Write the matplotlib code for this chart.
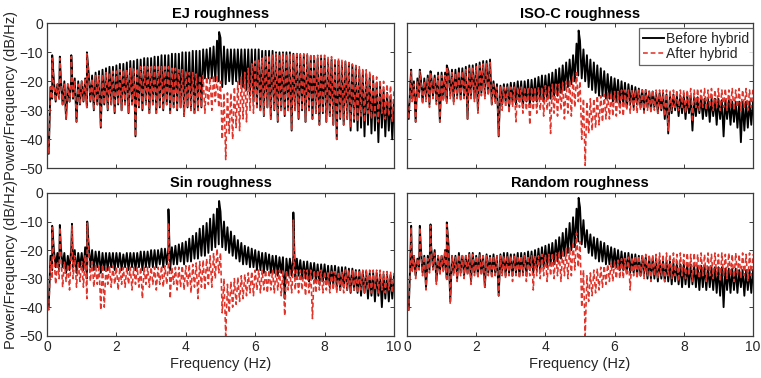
import numpy as np
import matplotlib
matplotlib.use("Agg")
import matplotlib.pyplot as plt

# ---------------- data ----------------
# upper values of each trace at 0.0, 0.1, ..., 10.0 Hz and lower values at 0.05, 0.15, ..., 9.95 Hz
freq_hi = np.round(np.linspace(0.0, 10.0, 101), 3)
freq_lo = np.round(np.linspace(0.05, 9.95, 100), 3)

titles = ["EJ roughness", "ISO-C roughness", "Sin roughness", "Random roughness"]
series_labels = ["Before hybrid", "After hybrid"]

# ---- EJ ----
ej_before_hi = [
    -38, -22, -20, -21, -19, -20, -21, -19, -19, -20,
    -20, -19, -17, -18, -17, -16.5, -16, -15.5, -15, -15,
    -14.5, -14, -14, -13.5, -13, -13, -12.5, -12.5, -12, -12,
    -12, -11.5, -11.5, -11, -11, -11, -10.5, -10.5, -10.5, -10,
    -10, -10, -9.5, -9.5, -9.5, -9, -9, -8.5, -8, -6,
    -5, -8, -9, -9, -9, -9, -9, -9, -9, -9,
    -9, -9, -9.5, -9.5, -9.5, -9.5, -10, -10, -10, -10,
    -10, -10.5, -10.5, -11, -11, -11, -11.5, -11.5, -12, -12,
    -12, -12.5, -12.5, -13, -13, -13.5, -13.5, -14, -14.5, -15,
    -16, -17, -17.5, -18.5, -19.5, -20.5, -21.5, -23, -24, -25.5,
    -27]
ej_before_lo = [
    -45, -26, -27, -26, -28, -33, -27, -26, -34, -28,
    -27, -29, -27, -30, -28, -36, -28, -30, -28, -31,
    -28, -30, -28, -31, -28, -39, -29, -30, -28, -31,
    -28, -31, -29, -30, -28, -31, -29, -30, -29, -32,
    -29, -30, -31, -30, -29, -19, -19, -19, -20, -20,
    -22, -21, -20, -21, -20, -21, -22, -23, -25, -27,
    -29, -30, -32, -29, -33, -30, -34, -30, -32, -30,
    -37, -30, -33, -30, -34, -30, -33, -31, -35, -31,
    -34, -32, -35, -40, -33, -35, -33, -37, -34, -37,
    -36, -39, -35, -38, -37, -41, -36, -39, -37, -40]
ej_after_hi = [
    -38, -22, -21, -21, -20, -21, -21, -20, -20, -21,
    -20, -19, -18, -19, -18, -18, -17.5, -17, -17, -16.5,
    -16.5, -16, -16, -16, -15.5, -15.5, -15.5, -15, -15, -15,
    -15, -15, -15, -15, -15, -15, -15.5, -15.5, -16, -16,
    -16.5, -17, -17, -17.5, -18, -18, -18.5, -18.5, -18, -18,
    -20, -24, -24, -24, -22, -20, -18.5, -17, -15.5, -14,
    -13, -12.5, -12, -11.5, -11, -11, -10.5, -10.5, -10.5, -10.5,
    -10.5, -10.5, -10.5, -10.5, -10.5, -10.5, -10.5, -10.5, -11, -11,
    -11, -11.5, -11.5, -12, -12, -12.5, -13, -13.5, -14, -14.5,
    -15, -15.5, -16, -16.5, -17.5, -18.5, -19.5, -20, -21, -21.5,
    -23]
ej_after_lo = [
    -45, -26, -27, -26, -28, -33, -27, -26, -34, -28,
    -27, -29, -27, -30, -28, -36, -28, -30, -28, -31,
    -28, -30, -28, -31, -28, -39, -29, -30, -28, -31,
    -28, -31, -29, -30, -28, -31, -29, -30, -29, -32,
    -29, -30, -31, -30, -29, -31, -28, -30, -27, -29,
    -40, -47, -38, -40, -36, -37, -33, -34, -30, -31,
    -29, -30, -32, -29, -33, -30, -34, -30, -32, -30,
    -37, -30, -33, -30, -34, -30, -33, -31, -35, -31,
    -34, -32, -35, -40, -33, -35, -33, -36, -33, -34,
    -32, -34, -31, -33, -32, -34, -31, -33, -32, -34]
ej_before_peak_f = [0.15, 0.37, 0.70, 1.15, 4.96]
ej_before_peak_v = [-11, -11.5, -11, -10, -3]
ej_after_peak_f = [0.15, 0.37, 0.70, 1.15]
ej_after_peak_v = [-12, -12, -11.5, -10.5]

# ---- ISO-C ----
iso_before_hi = [
    -27, -20, -20, -19, -19, -19, -18, -18, -18, -17,
    -17, -17, -16.5, -16, -16, -15.5, -15.5, -15, -14.5, -14.5,
    -14, -13.5, -13, -13, -12.5, -20, -21, -21.5, -21, -21,
    -20.5, -20.5, -20, -20, -20, -19.5, -19.5, -19, -18.5, -18,
    -18, -17.5, -17, -16, -15.5, -14.5, -13.5, -12.5, -11, -7,
    -6, -9, -11, -12.5, -13.5, -14.5, -15.5, -16.5, -17.5, -18.5,
    -19, -19.5, -20, -20.5, -21, -21.5, -22, -22.5, -23, -23,
    -23.5, -23.5, -24, -24, -24, -24.5, -24.5, -24.5, -25, -25,
    -25, -25, -25.5, -25.5, -25.5, -25.5, -26, -26, -26, -26,
    -26, -26.5, -26.5, -26.5, -27, -27, -27, -27, -27, -27,
    -27]
iso_before_lo = [
    -33, -26, -34, -25, -27, -26, -28, -25, -27, -34,
    -26, -27, -25, -27, -25, -26, -25, -33, -25, -26,
    -30, -24, -25, -24, -28, -26, -39, -28, -27, -29,
    -27, -28, -27, -29, -27, -28, -27, -27, -26, -27,
    -26, -26, -25, -25, -24, -23, -22, -21, -20, -18,
    -19, -20, -22, -23, -24, -25, -25, -26, -26, -27,
    -27, -28, -28, -29, -28, -29, -28, -29, -30, -29,
    -30, -29, -31, -30, -33, -38, -31, -30, -32, -31,
    -33, -31, -37, -32, -31, -33, -32, -34, -32, -35,
    -33, -39, -33, -35, -34, -36, -41, -37, -36, -35]
iso_after_hi = [
    -28, -21, -21, -20, -20, -20, -19, -19, -19, -18,
    -18, -18, -17.5, -17, -17, -16.5, -16.5, -16, -15.5, -15.5,
    -15, -14.5, -14, -14, -13.5, -21, -22, -22, -22, -22,
    -22, -22, -22, -22, -22, -22, -22, -22, -22, -22,
    -21.5, -21.5, -21, -21, -21, -20.5, -20, -19.5, -18, -17,
    -20, -26, -27, -26, -26, -25, -25, -24.5, -24, -24,
    -23.5, -23.5, -23, -23, -23, -23, -23, -23, -23, -23,
    -23, -23, -23, -23, -23, -23, -23, -23, -23, -23,
    -23, -23, -22.5, -23, -22.5, -23, -22.5, -23, -22.5, -23,
    -22.5, -23, -22.5, -23, -22.5, -23, -22.5, -23, -22.5, -23,
    -22.5]
iso_after_lo = [
    -33, -27, -34, -26, -28, -27, -29, -26, -28, -34,
    -27, -28, -26, -28, -26, -27, -26, -33, -26, -27,
    -31, -25, -26, -25, -28, -28, -39, -30, -29, -31,
    -29, -34, -29, -31, -30, -35, -30, -31, -30, -32,
    -30, -38, -31, -32, -30, -33, -31, -32, -29, -27,
    -40, -49, -38, -37, -36, -35, -34, -33, -33, -32,
    -32, -31, -32, -30, -31, -30, -31, -30, -31, -30,
    -31, -30, -31, -30, -32, -37, -30, -29, -30, -29,
    -31, -29, -34, -29, -30, -29, -30, -29, -30, -29,
    -30, -29, -30, -29, -30, -29, -30, -29, -30, -29]
iso_before_peak_f = [0.12, 0.37, 0.68, 1.15, 4.96]
iso_before_peak_v = [-16, -16, -16.5, -14.5, -2.5]
iso_after_peak_f = [0.12, 0.37, 0.68, 1.15]
iso_after_peak_v = [-16.5, -16.5, -17, -15]

# ---- Sin ----
sin_before_hi = [
    -38, -22, -20, -21, -19, -21, -22, -19, -20, -21,
    -21, -19, -18, -20, -20.5, -20.5, -21, -21, -21, -21,
    -21, -21, -21.5, -21, -21, -21, -21, -20.5, -20.5, -20.5,
    -20, -20, -20, -19.5, -19.5, -19, -19, -18.5, -18, -17.5,
    -17, -16, -15, -14, -12.5, -11.5, -10.5, -9, -7.5, -5.5,
    -6.5, -10, -12, -13.5, -15, -16.5, -17.5, -18.5, -19, -19.5,
    -20, -20.5, -21, -21, -21.5, -22, -22, -22.5, -22.5, -23,
    -23, -22, -23, -23.5, -24, -24, -24.5, -24.5, -25, -25,
    -25, -25.5, -25.5, -25.5, -26, -26, -26, -26.5, -26.5, -27,
    -27, -27.5, -27.5, -28, -28, -28, -28.5, -28.5, -28.5, -29,
    -29]
sin_before_lo = [
    -40, -27, -26, -27, -26, -28, -27, -26, -28, -26,
    -27, -30, -26, -27, -26, -28, -27, -27, -26, -27,
    -26, -27, -26, -27, -26, -27, -26, -27, -26, -26,
    -26, -26, -25, -26, -25, -27, -25, -25, -24, -25,
    -24, -24, -23, -23, -22, -22, -21, -20, -19, -18,
    -19, -20, -21, -22, -23, -24, -25, -25, -26, -26,
    -27, -27, -28, -27, -28, -28, -29, -28, -37, -29,
    -29, -30, -29, -30, -30, -31, -30, -31, -32, -31,
    -32, -33, -32, -33, -34, -33, -34, -35, -34, -35,
    -36, -35, -37, -36, -38, -36, -40, -37, -38, -37]
sin_after_hi = [
    -38, -24, -22, -24, -21, -24, -25, -21, -22, -24,
    -24, -22, -20, -24, -25, -25, -25, -25.5, -25.5, -25.5,
    -26, -26, -26, -26, -26, -26, -26, -26, -26, -26,
    -26, -26, -26, -25.5, -25.5, -25, -26, -26, -26, -25.5,
    -25.5, -25, -25, -24.5, -24, -23.5, -23, -22, -21, -19.5,
    -21, -30, -32, -31, -30, -29.5, -29, -28.5, -28, -27.5,
    -27, -27, -27, -27, -27, -27, -27, -27, -27, -27,
    -27, -26, -27, -27, -27, -27, -27, -27, -27, -27,
    -27.5, -27.5, -27.5, -27.5, -27.5, -27.5, -27, -27, -27, -27,
    -27, -27, -27, -27, -27, -27, -27, -27.5, -27.5, -27.5,
    -28]
sin_after_lo = [
    -41, -30, -32, -30, -33, -31, -34, -30, -33, -31,
    -33, -37, -31, -33, -32, -41, -40, -32, -33, -32,
    -34, -32, -33, -32, -34, -32, -33, -37, -32, -33,
    -32, -34, -32, -33, -32, -37, -32, -34, -33, -34,
    -33, -35, -33, -37, -33, -34, -32, -33, -30, -28,
    -42, -50, -42, -40, -39, -38, -37, -36, -35, -36,
    -34, -35, -34, -35, -34, -35, -34, -36, -43, -34,
    -35, -34, -35, -34, -36, -35, -44, -35, -34, -35,
    -34, -35, -34, -35, -34, -35, -34, -35, -34, -35,
    -34, -35, -34, -35, -34, -35, -34, -35, -34, -35]
sin_before_peak_f = [0.15, 0.37, 0.72, 1.16, 3.5, 4.96, 7.1]
sin_before_peak_v = [-11.5, -11.2, -10.8, -10, -5.7, -2.8, -6.8]
sin_after_peak_f = [0.15, 0.37, 0.72, 1.16, 3.5, 7.1]
sin_after_peak_v = [-12, -12, -11.5, -10.5, -10.5, -9.5]

# ---- Random ----
rnd_before_hi = [
    -38, -22, -22, -23, -19, -22, -22, -19, -20, -22,
    -22, -20, -18, -22, -22, -21, -22, -22, -21, -21,
    -22, -21, -22, -21.5, -22, -21.5, -22, -21.5, -21, -21,
    -21.5, -21.5, -21, -21, -21, -20.5, -20.5, -20, -19.5, -19,
    -18.5, -18, -17.5, -16.5, -15.5, -14, -12.5, -10.5, -8.5, -5.5,
    -5, -9.5, -13, -14.5, -15.5, -16, -17, -17.5, -18.5, -19,
    -19.5, -20, -20.5, -21, -21, -21.5, -21.5, -22, -22, -22.5,
    -22.5, -23, -23, -23.5, -24, -24, -24, -24.5, -24.5, -25,
    -25, -25, -25, -25.5, -25.5, -25.5, -25.5, -26, -26, -26,
    -26, -26, -26.5, -26.5, -26.5, -26.5, -27, -27, -27, -27,
    -27]
rnd_before_lo = [
    -41, -27, -29, -26, -28, -33, -27, -26, -31, -28,
    -27, -30, -38, -28, -30, -28, -29, -28, -31, -28,
    -29, -28, -33, -28, -29, -28, -36, -28, -29, -28,
    -29, -28, -29, -28, -29, -27, -28, -27, -27, -26,
    -26, -25, -25, -24, -23, -22, -21, -20, -19, -17,
    -18, -19, -21, -22, -23, -24, -24, -25, -25, -26,
    -26, -27, -27, -28, -28, -28, -29, -29, -29, -30,
    -30, -30, -31, -30, -31, -31, -32, -31, -32, -33,
    -32, -33, -32, -33, -34, -33, -34, -33, -34, -35,
    -36, -40, -34, -35, -34, -35, -33, -36, -34, -35]
rnd_after_hi = [
    -38, -22, -22, -23, -20, -22, -23, -20, -21, -22,
    -22, -20, -19, -22, -22.5, -21.5, -22, -22, -21.5, -21.5,
    -22, -21.5, -22, -22, -22, -22, -22, -22, -22, -22,
    -22, -22, -22, -22, -22, -22, -22, -22, -22, -21.5,
    -21.5, -21.5, -21, -21, -20.5, -20, -19.5, -19, -17, -14,
    -17, -27, -29, -28, -27, -26.5, -26, -25.5, -25, -24.5,
    -24, -23.5, -23, -23, -22.5, -22.5, -22, -22, -22, -21.5,
    -21.5, -21.5, -21.5, -21, -21.5, -21, -21.5, -21, -21.5, -21,
    -21.5, -21, -21.5, -21, -21.5, -21, -21.5, -21, -21.5, -21,
    -21.5, -21, -21.5, -21, -21.5, -21, -21.5, -21, -21.5, -21,
    -21.5]
rnd_after_lo = [
    -41, -28, -30, -27, -29, -34, -28, -27, -32, -29,
    -28, -31, -39, -29, -31, -29, -30, -29, -32, -29,
    -30, -29, -33, -29, -30, -29, -36, -29, -30, -29,
    -31, -29, -30, -29, -31, -29, -34, -29, -30, -29,
    -31, -29, -30, -29, -31, -29, -30, -29, -27, -26,
    -40, -50, -38, -36, -35, -34, -33, -32, -31, -31,
    -30, -30, -30, -29, -34, -29, -30, -29, -30, -29,
    -31, -29, -30, -29, -31, -29, -30, -29, -31, -29,
    -30, -29, -31, -29, -30, -29, -31, -29, -30, -29,
    -31, -29, -30, -29, -31, -29, -30, -29, -31, -29]
rnd_before_peak_f = [0.12, 0.37, 0.68, 1.15, 4.96]
rnd_before_peak_v = [-11.5, -11.5, -11, -10.3, -1.7]
rnd_after_peak_f = [0.12, 0.37, 0.68, 1.15]
rnd_after_peak_v = [-12, -12, -11.5, -11]

panels = [
    (ej_before_hi, ej_before_lo, ej_before_peak_f, ej_before_peak_v,
     ej_after_hi, ej_after_lo, ej_after_peak_f, ej_after_peak_v),
    (iso_before_hi, iso_before_lo, iso_before_peak_f, iso_before_peak_v,
     iso_after_hi, iso_after_lo, iso_after_peak_f, iso_after_peak_v),
    (sin_before_hi, sin_before_lo, sin_before_peak_f, sin_before_peak_v,
     sin_after_hi, sin_after_lo, sin_after_peak_f, sin_after_peak_v),
    (rnd_before_hi, rnd_before_lo, rnd_before_peak_f, rnd_before_peak_v,
     rnd_after_hi, rnd_after_lo, rnd_after_peak_f, rnd_after_peak_v),
]


def trace(hi, lo, pk_f, pk_v):
    assert len(hi) == len(freq_hi) and len(lo) == len(freq_lo)
    x = np.concatenate([freq_hi, freq_lo, np.asarray(pk_f, float)])
    y = np.concatenate([np.asarray(hi, float), np.asarray(lo, float), np.asarray(pk_v, float)])
    order = np.argsort(x, kind="stable")
    return x[order], y[order]


# ---------------- figure ----------------
plt.rcParams["font.family"] = ["Liberation Sans", "DejaVu Sans"]
plt.rcParams["font.size"] = 10

fig = plt.figure(figsize=(7.61, 3.78), dpi=100)
W, H = 761.0, 378.0
boxes = [
    (47, 23.3, 394, 168.3),
    (407, 23.3, 753, 168.3),
    (47, 193, 394, 335.7),
    (407, 193, 753, 335.7),
]
axc = "#3c3c3c"
txtc = "#262626"
red = "#e0352b"

axes = []
for i, (x0, y0, x1, y1) in enumerate(boxes):
    ax = fig.add_axes([x0 / W, 1 - y1 / H, (x1 - x0) / W, (y1 - y0) / H])
    axes.append(ax)
    hb, lb, fb, vb, ha, la, fa, va = panels[i]
    xb, yb = trace(hb, lb, fb, vb)
    xa, ya = trace(ha, la, fa, va)
    ax.plot(xb, yb, color="black", lw=1.35, label=series_labels[0], zorder=2)
    ax.plot(xa, ya, color=red, lw=1.15, ls=(0, (3.0, 1.8)), label=series_labels[1], zorder=3)
    ax.set_xlim(0, 10)
    ax.set_ylim(-50, 0)
    ax.set_xticks([0, 2, 4, 6, 8, 10])
    ax.set_yticks([-50, -40, -30, -20, -10, 0])
    ax.tick_params(direction="in", length=3, width=0.7, top=True, right=True,
                   colors=axc, labelcolor=txtc, labelsize=10, pad=3)
    for s in ax.spines.values():
        s.set_color(axc)
        s.set_linewidth(0.9)
        s.set_zorder(5)
    ax.set_title(titles[i], fontsize=10.5, fontweight="bold", color="black", pad=4)
    if i < 2:
        ax.tick_params(labelbottom=False)
    else:
        ax.set_xlabel("Frequency (Hz)", fontsize=10.5, color=txtc, labelpad=2)
    if i in (1, 3):
        ax.tick_params(labelleft=False)
    else:
        ax.set_ylabel("Power/Frequency (dB/Hz)", fontsize=10.5, color=txtc, labelpad=1)

leg = axes[1].legend(loc="upper right", bbox_to_anchor=(1.0, 0.966), borderaxespad=0.0,
                     fontsize=10, frameon=True, fancybox=False, handlelength=1.5,
                     handletextpad=0.2, borderpad=0.25, labelspacing=0.1)
leg.get_frame().set_edgecolor(axc)
leg.get_frame().set_linewidth(0.9)
leg.set_zorder(10)
for t in leg.get_texts():
    t.set_color(txtc)

fig.savefig("out.png", dpi=100)
